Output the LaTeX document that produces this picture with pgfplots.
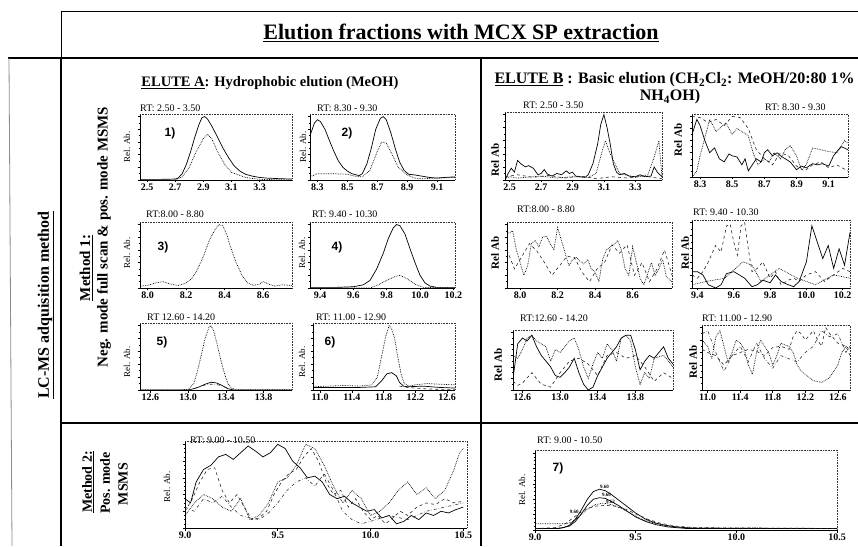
\documentclass[border=0pt]{standalone}
\usepackage{fontspec}
\setmainfont{Liberation Serif}
\setsansfont{Liberation Sans}
\usepackage{pgfplots}
\pgfplotsset{compat=1.18}
\pgfplotsset{
 chrom/.style={
   scale only axis, axis x line*=bottom, axis y line*=left,
   axis line style={line width=0.7pt},
   ymin=0, ymax=104, ytick={0,20,40,60,80,100}, yticklabels={}, minor y tick num=1,
   tick align=outside, major tick length=2.5pt, minor tick length=1.5pt,
   tick style={line width=0.6pt, black},
   xticklabel style={font=\fontsize{10}{10}\selectfont\bfseries, inner sep=1pt,
     /pgf/number format/assume math mode=true, /pgf/number format/fixed,
     /pgf/number format/fixed zerofill, /pgf/number format/precision=1},
   clip=true,
   after end axis/.code={\draw[densely dotted, line width=0.6pt, black!80] (rel axis cs:0,1)--(rel axis cs:1,1)--(rel axis cs:1,0);},
 },
 sol/.style={black, line width=0.7pt, no marks},
 dot/.style={black, densely dotted, line width=0.7pt, no marks},
 dsh/.style={black!85, dashed, line width=0.6pt, no marks},
 dd/.style={black!80, dash dot, line width=0.6pt, no marks},
}
\begin{document}
\begin{tikzpicture}[x=1pt,y=1pt]
\path[use as bounding box] (0,0) rectangle (858,546);
% frame lines
\draw[line width=1pt] (61,534)--(858,534);
\draw[line width=1pt] (61,534)--(61,488);
\draw[line width=1.2pt] (8,488)--(858,488);
\draw[line width=0.8pt, black!45] (9,488)--(12,0);
\draw[line width=2.5pt] (61,488)--(61,0);
\draw[line width=1.5pt] (481,488)--(481,0);
\draw[line width=2.5pt] (61,123)--(858,123);
% headings
\node[font=\fontsize{22}{22}\selectfont\bfseries] at (461,513) {\underline{Elution fractions with MCX SP extraction}};
\node[font=\fontsize{14.5}{14.5}\selectfont\bfseries] at (270,463) {\underline{ELUTE A}: Hydrophobic elution (MeOH)};
\node[font=\fontsize{16}{16}\selectfont\bfseries, anchor=west] at (491,466) {\underline{ELUTE B} : Basic elution (CH\textsubscript{2}Cl\textsubscript{2}: MeOH/20:80 1\%};
\node[font=\fontsize{16}{16}\selectfont\bfseries] at (670,449) {NH\textsubscript{4}OH)};
\node[font=\fontsize{16}{16}\selectfont\bfseries, rotate=90] at (46,241) {\underline{LC-MS adquisition method}};
\node[font=\fontsize{15}{15}\selectfont\bfseries, rotate=90] at (86,278) {\underline{Method 1:}};
\node[font=\fontsize{15}{15}\selectfont\bfseries, rotate=90] at (104,309) {Neg. mode full scan \& pos. mode MSMS};
\node[font=\fontsize{14}{14}\selectfont\bfseries, rotate=90] at (88,64) {\underline{Method 2:}};
\node[font=\fontsize{14}{14}\selectfont\bfseries, rotate=90] at (105,63) {Pos. mode};
\node[font=\fontsize{14}{14}\selectfont\bfseries, rotate=90] at (123,62) {MSMS};
% RT titles
\begin{scope}[every node/.style={anchor=west, font=\fontsize{10}{10}\selectfont, inner sep=0pt}]
\node at (140,438) {RT: 2.50 - 3.50};
\node at (317,438) {RT: 8.30 - 9.30};
\node at (146,332) {RT:8.00 - 8.80};
\node at (312,332) {RT: 9.40 - 10.30};
\node at (147,229) {RT 12.60 - 14.20};
\node at (316,229) {RT: 11.00 - 12.90};
\node at (523,441) {RT: 2.50 - 3.50};
\node at (765,439) {RT: 8.30 - 9.30};
\node at (517,337) {RT:8.00 - 8.80};
\node at (693,334) {RT: 9.40 - 10.30};
\node at (520,228) {RT:12.60 - 14.20};
\node at (702,228) {RT: 11.00 - 12.90};
\node at (190,106) {RT: 9.00 - 10.50};
\node at (537,106) {RT: 9.00 - 10.50};
\end{scope}
% Rel. Ab. labels
\begin{scope}[every node/.style={rotate=90, font=\fontsize{9}{9}\selectfont}]
\node at (127,399) {Rel. Ab.};
\node at (303,399) {Rel. Ab.};
\node at (127,293) {Rel. Ab.};
\node at (302,293) {Rel. Ab.};
\node at (127,184) {Rel. Ab.};
\node at (302,184) {Rel. Ab.};
\node at (167,59) {Rel. Ab.};
\node at (522,56) {Rel. Ab.};
\end{scope}
\begin{scope}[every node/.style={rotate=90, font=\fontsize{11}{11}\selectfont\bfseries}]
\node at (495,386) {Rel Ab};
\node at (678,406) {Rel Ab};
\node at (495,293) {Rel Ab};
\node at (685,293) {Rel Ab};
\node at (498,181) {Rel Ab};
\node at (693,184) {Rel Ab};
\end{scope}
% numbers
\begin{scope}[every node/.style={font=\sffamily\bfseries\fontsize{12}{12}\selectfont}]
\node at (170,413) {1)};
\node at (347,413) {2)};
\node at (163,299) {3)};
\node at (337,299) {4)};
\node at (162,204) {5)};
\node at (330,204) {6)};
\node at (558,78) {7)};
\end{scope}

% ---------- ELUTE A ----------
\begin{axis}[chrom, at={(140pt,366pt)}, anchor=south west, width=152pt, height=66pt,
  xmin=2.45, xmax=3.53, xtick={2.5,2.7,2.9,3.1,3.3}]
\addplot[sol] coordinates {(2.45,1)(2.6,1)(2.7,1.5)(2.72,3)(2.75,10)(2.78,25)(2.81,45)(2.84,68)(2.87,88)(2.89,98)(2.91,100)(2.93,96)(2.96,85)(3.0,68)(3.04,50)(3.08,35)(3.12,22)(3.16,14)(3.2,9)(3.25,6)(3.3,4)(3.35,3)(3.45,2)(3.53,1.5)};
\addplot[dot] coordinates {(2.45,0)(2.7,0)(2.75,5)(2.8,20)(2.85,45)(2.9,65)(2.93,72)(2.96,65)(3.0,45)(3.05,25)(3.1,12)(3.2,4)(3.3,1)(3.53,0)};
\end{axis}
\begin{axis}[chrom, at={(310pt,366pt)}, anchor=south west, width=145pt, height=66pt,
  xmin=8.25, xmax=9.22, xtick={8.3,8.5,8.7,8.9,9.1}]
\addplot[sol] coordinates {(8.25,70)(8.28,90)(8.3,95)(8.32,92)(8.35,80)(8.38,62)(8.41,45)(8.44,30)(8.47,20)(8.5,14)(8.53,10)(8.56,8)(8.58,7)(8.6,10)(8.63,25)(8.66,50)(8.69,80)(8.72,97)(8.74,100)(8.76,95)(8.79,75)(8.82,50)(8.85,28)(8.88,15)(8.91,9)(8.95,8)(9.0,6)(9.05,4)(9.1,3)(9.15,4)(9.22,5)};
\addplot[dot] coordinates {(8.25,5)(8.3,10)(8.4,10)(8.5,9)(8.55,6)(8.6,5)(8.65,15)(8.7,45)(8.73,60)(8.76,58)(8.8,40)(8.84,20)(8.9,8)(8.95,3)(9.0,2)(9.1,3)(9.22,4)};
\end{axis}
\begin{axis}[chrom, at={(140pt,258pt)}, anchor=south west, width=152pt, height=66pt,
  xmin=7.96, xmax=8.75, xtick={8.0,8.2,8.4,8.6}]
\addplot[dot] coordinates {(7.96,3)(8.0,4)(8.04,8)(8.08,10)(8.12,6)(8.16,4)(8.2,8)(8.23,15)(8.26,30)(8.29,50)(8.32,75)(8.35,92)(8.37,100)(8.39,98)(8.41,85)(8.43,65)(8.46,40)(8.49,20)(8.52,8)(8.55,4)(8.58,6)(8.6,10)(8.63,6)(8.66,3)(8.7,5)(8.75,4)};
\end{axis}
\begin{axis}[chrom, at={(310pt,258pt)}, anchor=south west, width=145pt, height=66pt,
  xmin=9.34, xmax=10.21, xtick={9.4,9.6,9.8,10.0,10.2}]
\addplot[sol] coordinates {(9.34,1)(9.5,1)(9.6,2)(9.66,5)(9.7,12)(9.74,30)(9.78,55)(9.81,78)(9.84,95)(9.86,100)(9.88,98)(9.91,85)(9.94,62)(9.97,40)(10.0,20)(10.03,8)(10.06,3)(10.1,1)(10.21,1)};
\addplot[dot] coordinates {(9.34,0)(9.7,0)(9.75,5)(9.8,12)(9.85,18)(9.88,20)(9.92,15)(9.97,6)(10.02,1)(10.21,0)};
\end{axis}
\begin{axis}[chrom, at={(140pt,156pt)}, anchor=south west, width=152pt, height=67pt,
  xmin=12.49, xmax=14.1, xtick={12.6,13.0,13.4,13.8}]
\addplot[dot] coordinates {(12.49,0)(12.9,0)(13.0,1)(13.06,10)(13.1,30)(13.14,55)(13.18,80)(13.22,97)(13.24,100)(13.27,92)(13.3,75)(13.34,50)(13.38,28)(13.42,10)(13.46,3)(13.5,1)(14.1,1)};
\addplot[sol] coordinates {(12.49,0)(13.0,0)(13.06,2)(13.12,5)(13.18,9)(13.24,12)(13.3,11)(13.36,7)(13.42,2)(13.48,0)(14.1,0)};
\addplot[dd] coordinates {(13.0,0)(13.08,3)(13.16,7)(13.24,9)(13.32,8)(13.4,4)(13.48,1)};
\end{axis}
\begin{axis}[chrom, at={(313pt,156pt)}, anchor=south west, width=142pt, height=67pt,
  xmin=10.91, xmax=12.7, xtick={11.0,11.4,11.8,12.2,12.6}]
\addplot[dot] coordinates {(10.91,5)(11.1,6)(11.3,7)(11.5,6)(11.65,8)(11.72,20)(11.78,55)(11.83,85)(11.87,100)(11.9,95)(11.94,80)(11.98,50)(12.02,25)(12.06,10)(12.12,6)(12.2,8)(12.35,10)(12.5,9)(12.7,8)};
\addplot[sol] coordinates {(10.91,4)(11.5,4)(11.7,5)(11.78,15)(11.84,25)(11.9,27)(11.96,22)(12.0,12)(12.05,6)(12.1,5)(12.3,6)(12.5,4)(12.7,3)};
\addplot[dsh] coordinates {(12.0,6)(12.1,4)(12.3,2)(12.5,1)(12.7,1)};
\end{axis}

% ---------- ELUTE B ----------
\begin{axis}[chrom, at={(505pt,366pt)}, anchor=south west, width=157pt, height=68pt,
  xmin=2.47, xmax=3.47, xtick={2.5,2.7,2.9,3.1,3.3}]
\addplot[sol] coordinates {(2.47,0)(2.49,10)(2.51,18)(2.53,12)(2.55,30)(2.57,25)(2.6,20)(2.62,22)(2.65,18)(2.68,8)(2.7,10)(2.72,16)(2.74,9)(2.77,6)(2.8,10)(2.83,8)(2.86,14)(2.88,10)(2.9,12)(2.92,6)(2.95,5)(2.98,4)(3.0,8)(3.03,25)(3.06,55)(3.08,85)(3.1,100)(3.12,80)(3.14,55)(3.16,25)(3.18,12)(3.2,8)(3.23,10)(3.26,6)(3.3,5)(3.33,8)(3.36,5)(3.4,6)(3.42,20)(3.44,12)(3.47,5)};
\addplot[dot] coordinates {(2.47,2)(2.5,5)(2.55,3)(2.6,4)(2.7,6)(2.8,3)(2.9,5)(3.0,4)(3.05,10)(3.09,45)(3.11,60)(3.14,40)(3.2,10)(3.3,4)(3.38,8)(3.42,35)(3.45,60)(3.47,4)};
\addplot[dsh] coordinates {(2.47,5)(2.55,8)(2.65,4)(2.75,7)(2.85,3)(2.95,6)(3.05,2)(3.15,5)(3.25,3)(3.35,6)(3.47,2)};
\end{axis}
\begin{axis}[chrom, at={(692pt,369pt)}, anchor=south west, width=156pt, height=63pt,
  xmin=8.25, xmax=9.22, xtick={8.3,8.5,8.7,8.9,9.1}]
\addplot[sol] coordinates {(8.25,70)(8.28,95)(8.3,85)(8.33,60)(8.36,40)(8.39,48)(8.42,30)(8.45,25)(8.48,38)(8.5,35)(8.53,33)(8.56,20)(8.58,30)(8.6,10)(8.62,18)(8.65,30)(8.68,25)(8.7,40)(8.72,45)(8.75,35)(8.78,40)(8.8,35)(8.83,30)(8.86,25)(8.9,12)(8.93,18)(8.96,15)(9.0,22)(9.03,20)(9.06,22)(9.1,18)(9.13,35)(9.16,45)(9.18,50)(9.22,45)};
\addplot[dot] coordinates {(8.25,0)(8.28,10)(8.3,35)(8.33,65)(8.36,95)(8.4,75)(8.43,82)(8.46,90)(8.5,70)(8.53,80)(8.56,75)(8.6,68)(8.63,40)(8.66,20)(8.7,30)(8.73,25)(8.76,40)(8.8,30)(8.83,45)(8.86,52)(8.9,35)(8.93,12)(8.96,20)(9.0,48)(9.05,45)(9.1,42)(9.15,40)(9.2,60)(9.22,55)};
\addplot[dsh] coordinates {(8.25,100)(8.3,98)(8.35,90)(8.4,95)(8.45,85)(8.5,100)(8.55,98)(8.6,80)(8.65,45)(8.7,30)(8.75,20)(8.8,40)(8.85,35)(8.9,18)(8.95,10)(9.0,20)(9.05,25)(9.1,15)(9.15,20)(9.22,10)};
\end{axis}
\begin{axis}[chrom, at={(507pt,258pt)}, anchor=south west, width=165pt, height=66pt,
  xmin=7.93, xmax=8.81, xtick={8.0,8.2,8.4,8.6}]
\addplot[dot] coordinates {(7.93,85)(7.96,90)(7.98,60)(8.0,40)(8.02,20)(8.04,35)(8.06,70)(8.08,75)(8.1,65)(8.12,80)(8.14,82)(8.16,70)(8.18,60)(8.2,95)(8.22,75)(8.24,55)(8.26,35)(8.28,45)(8.3,48)(8.32,42)(8.34,38)(8.36,45)(8.38,30)(8.4,25)(8.42,10)(8.44,45)(8.46,60)(8.48,65)(8.5,68)(8.52,75)(8.54,60)(8.56,30)(8.58,20)(8.6,65)(8.62,40)(8.64,15)(8.66,5)(8.7,40)(8.72,20)(8.74,30)(8.76,45)(8.78,18)(8.81,10)};
\addplot[dsh] coordinates {(7.93,60)(7.97,30)(8.01,50)(8.05,70)(8.09,58)(8.13,40)(8.17,20)(8.21,35)(8.25,50)(8.29,48)(8.33,25)(8.37,10)(8.41,30)(8.45,40)(8.49,68)(8.53,55)(8.57,68)(8.61,20)(8.65,40)(8.69,10)(8.73,30)(8.77,60)(8.81,20)};
\end{axis}
\begin{axis}[chrom, at={(692pt,258pt)}, anchor=south west, width=158pt, height=68pt,
  xmin=9.37, xmax=10.24, xtick={9.4,9.6,9.8,10.0,10.2}]
\addplot[sol] coordinates {(9.37,25)(9.4,25)(9.43,20)(9.46,5)(9.5,0)(9.53,5)(9.56,22)(9.6,25)(9.63,20)(9.66,15)(9.7,2)(9.73,5)(9.76,12)(9.8,8)(9.83,20)(9.86,10)(9.9,5)(9.93,2)(9.96,10)(10.0,40)(10.03,95)(10.06,70)(10.09,45)(10.12,65)(10.15,30)(10.18,60)(10.21,35)(10.24,85)};
\addplot[dsh] coordinates {(9.37,20)(9.4,15)(9.43,25)(9.46,40)(9.5,65)(9.53,55)(9.56,95)(9.58,98)(9.6,70)(9.62,50)(9.64,95)(9.66,100)(9.68,60)(9.7,25)(9.73,30)(9.76,40)(9.8,15)(9.83,25)(9.86,5)(9.9,12)(9.93,15)(9.96,10)(10.0,20)(10.05,25)(10.1,10)(10.15,20)(10.2,30)(10.24,25)};
\addplot[dot] coordinates {(9.37,5)(9.45,10)(9.55,15)(9.65,40)(9.7,35)(9.75,10)(9.85,30)(9.95,15)(10.05,5)(10.15,20)(10.24,15)};
\end{axis}
\begin{axis}[chrom, at={(513pt,156pt)}, anchor=south west, width=160pt, height=60pt,
  xmin=12.5, xmax=14.2, xtick={12.6,13.0,13.4,13.8}]
\addplot[sol] coordinates {(12.5,20)(12.55,80)(12.6,90)(12.65,85)(12.7,95)(12.75,75)(12.8,60)(12.85,50)(12.9,40)(12.95,25)(13.0,22)(13.05,30)(13.1,40)(13.15,55)(13.2,30)(13.25,10)(13.3,0)(13.35,5)(13.4,25)(13.45,40)(13.5,55)(13.55,65)(13.6,75)(13.65,90)(13.7,95)(13.75,95)(13.8,70)(13.85,35)(13.9,50)(13.95,60)(14.0,55)(14.05,65)(14.1,75)(14.15,55)(14.2,45)};
\addplot[dot] coordinates {(12.5,60)(12.55,55)(12.6,70)(12.65,90)(12.7,95)(12.75,85)(12.8,80)(12.85,75)(12.9,50)(12.95,70)(13.0,65)(13.1,85)(13.15,90)(13.2,70)(13.25,40)(13.3,20)(13.35,45)(13.4,65)(13.45,55)(13.5,80)(13.55,70)(13.6,50)(13.65,90)(13.7,95)(13.75,85)(13.8,40)(13.85,10)(13.9,30)(13.95,20)(14.0,55)(14.1,60)(14.2,40)};
\addplot[dsh] coordinates {(12.5,15)(12.55,8)(12.6,12)(12.7,30)(12.8,10)(12.9,5)(13.0,30)(13.1,50)(13.2,55)(13.3,45)(13.4,25)(13.5,60)(13.6,65)(13.7,55)(13.8,60)(13.9,40)(14.0,15)(14.1,30)(14.2,20)};
\end{axis}
\begin{axis}[chrom, at={(702pt,156pt)}, anchor=south west, width=148pt, height=65pt,
  xmin=10.93, xmax=12.75, xtick={11.0,11.4,11.8,12.2,12.6}]
\addplot[dot] coordinates {(10.93,80)(11.0,70)(11.05,50)(11.1,85)(11.15,95)(11.2,70)(11.25,45)(11.3,60)(11.35,80)(11.4,75)(11.45,65)(11.5,40)(11.55,25)(11.6,60)(11.65,80)(11.7,70)(11.75,60)(11.8,40)(11.85,55)(11.9,75)(11.95,72)(12.0,70)(12.05,60)(12.1,40)(12.15,30)(12.2,25)(12.3,15)(12.4,12)(12.5,20)(12.6,40)(12.65,60)(12.7,70)(12.75,65)};
\addplot[dsh] coordinates {(10.93,65)(11.0,60)(11.1,55)(11.2,40)(11.3,55)(11.4,60)(11.5,65)(11.6,62)(11.7,55)(11.8,68)(11.9,70)(12.0,65)(12.05,85)(12.1,95)(12.15,90)(12.2,80)(12.3,95)(12.35,80)(12.4,70)(12.45,100)(12.5,90)(12.6,75)(12.7,70)(12.75,55)};
\addplot[dd] coordinates {(10.93,90)(11.0,95)(11.1,60)(11.2,30)(11.3,55)(11.4,70)(11.5,45)(11.6,75)(11.7,50)(11.8,35)(11.9,55)(12.0,50)(12.1,45)(12.2,60)(12.3,70)(12.4,95)(12.5,85)(12.6,90)(12.7,60)(12.75,70)};
\end{axis}

% ---------- METHOD 2 ----------
\begin{axis}[chrom, at={(185pt,18pt)}, anchor=south west, width=282pt, height=87pt,
  xmin=9.0, xmax=10.52, xtick={9.0,9.5,10.0,10.5}, minor y tick num=3]
\addplot[sol] coordinates {(9.0,35)(9.03,30)(9.06,55)(9.1,70)(9.14,75)(9.18,85)(9.22,88)(9.26,82)(9.3,90)(9.34,98)(9.38,92)(9.42,85)(9.46,90)(9.5,100)(9.54,95)(9.58,80)(9.62,72)(9.66,60)(9.7,62)(9.74,55)(9.78,40)(9.82,35)(9.86,38)(9.9,30)(9.94,25)(9.98,20)(10.02,22)(10.06,12)(10.1,15)(10.14,5)(10.18,8)(10.22,15)(10.26,10)(10.3,18)(10.34,15)(10.38,20)(10.42,18)(10.46,22)(10.5,25)};
\addplot[dsh] coordinates {(9.0,20)(9.04,35)(9.08,55)(9.12,70)(9.16,72)(9.2,45)(9.24,30)(9.28,40)(9.32,25)(9.36,10)(9.4,12)(9.44,20)(9.48,40)(9.52,55)(9.56,65)(9.6,70)(9.64,85)(9.68,95)(9.72,80)(9.76,55)(9.8,40)(9.84,45)(9.88,25)(9.92,35)(9.96,20)(10.0,10)(10.04,15)(10.08,5)(10.12,12)(10.16,20)(10.2,15)(10.25,25)(10.3,30)(10.35,28)(10.4,35)(10.45,30)(10.5,32)};
\addplot[dot] coordinates {(9.0,15)(9.05,30)(9.1,40)(9.15,35)(9.2,25)(9.25,20)(9.3,35)(9.35,10)(9.4,15)(9.45,30)(9.5,55)(9.55,60)(9.6,75)(9.65,100)(9.7,95)(9.75,75)(9.8,50)(9.85,30)(9.9,45)(9.95,35)(10.0,15)(10.05,20)(10.1,30)(10.15,45)(10.2,55)(10.25,40)(10.3,48)(10.35,35)(10.4,45)(10.45,70)(10.48,90)(10.5,95)};
\addplot[dd] coordinates {(9.0,25)(9.05,20)(9.1,35)(9.15,30)(9.2,38)(9.25,25)(9.3,15)(9.35,12)(9.4,10)(9.45,18)(9.5,30)(9.55,45)(9.6,55)(9.65,60)(9.7,50)(9.75,65)(9.8,45)(9.85,20)(9.9,10)(9.95,5)(10.0,8)(10.1,15)(10.2,10)(10.3,20)(10.4,25)(10.5,30)};
\end{axis}
\begin{axis}[chrom, at={(535pt,16pt)}, anchor=south west, width=302pt, height=80pt,
  xmin=9.0, xmax=10.5, xtick={9.0,9.5,10.0,10.5}, minor y tick num=3]
\addplot[sol] coordinates {(9.0,2)(9.1,2)(9.14,3)(9.17,6)(9.2,14)(9.23,26)(9.26,40)(9.29,50)(9.32,53)(9.35,51)(9.38,46)(9.42,38)(9.46,30)(9.5,22)(9.55,14)(9.6,9)(9.65,6)(9.7,4)(9.8,2)(10.5,2)};
\addplot[sol] coordinates {(9.0,2)(9.12,2)(9.17,5)(9.2,11)(9.23,21)(9.26,32)(9.29,40)(9.32,42)(9.35,41)(9.38,37)(9.42,31)(9.46,24)(9.5,17)(9.55,11)(9.6,7)(9.66,4)(9.75,2)(10.5,2)};
\addplot[dot] coordinates {(9.0,8)(9.15,8)(9.18,10)(9.22,18)(9.26,27)(9.3,33)(9.34,35)(9.38,33)(9.43,28)(9.48,21)(9.53,14)(9.59,9)(9.66,5)(9.76,3)(10.5,2)};
\addplot[dsh] coordinates {(9.0,2)(9.1,3)(9.15,8)(9.2,18)(9.25,27)(9.3,31)(9.35,32)(9.4,31)(9.45,27)(9.5,21)(9.56,14)(9.62,9)(9.7,5)(9.8,3)(10.5,2)};
\node[font=\fontsize{5}{5}\selectfont\bfseries, anchor=south west, inner sep=0.5pt] at (axis cs:9.32,53) {9.60};
\node[font=\fontsize{5}{5}\selectfont\bfseries, anchor=south west, inner sep=0.5pt] at (axis cs:9.33,42) {9.60};
\node[font=\fontsize{5}{5}\selectfont\bfseries, anchor=south west, inner sep=0.5pt] at (axis cs:9.35,33) {9.62};
\node[font=\fontsize{5}{5}\selectfont\bfseries, anchor=east, inner sep=0.5pt] at (axis cs:9.22,24) {9.60};
\end{axis}
\end{tikzpicture}
\end{document}
